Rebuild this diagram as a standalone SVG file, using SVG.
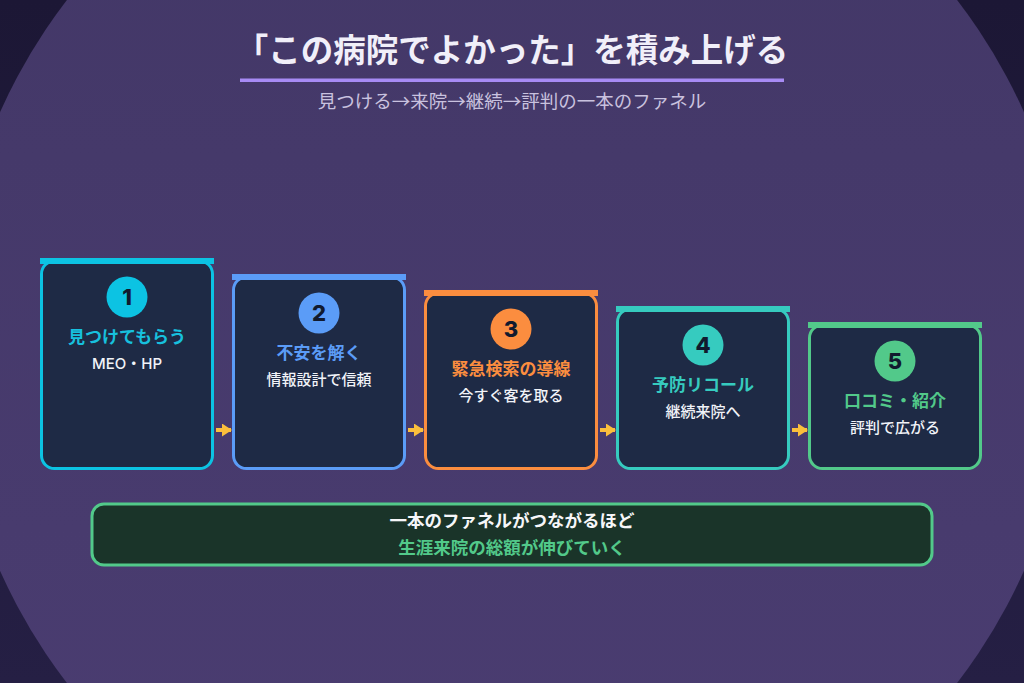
<svg xmlns="http://www.w3.org/2000/svg" width="1024" height="683" viewBox="0 0 1024 683">
  <defs>
    <linearGradient id="bgOuter" x1="0" y1="0" x2="0" y2="1">
      <stop offset="0" stop-color="#1c1735"/>
      <stop offset="1" stop-color="#251f44"/>
    </linearGradient>
    <linearGradient id="bgInner" x1="0" y1="0" x2="0" y2="1">
      <stop offset="0" stop-color="#423766"/>
      <stop offset="1" stop-color="#4b3d72"/>
    </linearGradient>
    <marker id="arrowHead" viewBox="0 0 10 13" refX="9" refY="6.5" markerWidth="10" markerHeight="13" markerUnits="userSpaceOnUse" orient="auto">
      <path d="M0,0 L10,6.5 L0,13 Z" fill="#fbbf3c"/>
    </marker>
  </defs>
  <style>
    .jp { font-family: "Noto Sans CJK JP", "Noto Sans", sans-serif; }
    .lat { font-family: "Inter", "Roboto", "Noto Sans CJK JP", sans-serif; }
    .title { font-size: 32.5px; font-weight: 700; fill: #f1eff9; }
    .sub { font-size: 18.5px; font-weight: 400; fill: #c9c2df; }
    .card { fill: #1e2a45; stroke-width: 3; }
    .num { font-family: "Inter", "Noto Sans", sans-serif; font-size: 22px; font-weight: 800; fill: #111a2e; }
    .ctitle { font-size: 17px; font-weight: 700; }
    .cdesc { font-size: 15px; font-weight: 500; fill: #f1f3f8; }
    .conn { stroke: #fbbf3c; stroke-width: 4; fill: none; }
  </style>

  <rect width="1024" height="683" fill="url(#bgOuter)"/>
  <circle cx="512" cy="341.5" r="561" fill="url(#bgInner)"/>

  <g id="header">
    <text class="jp title" x="512" y="62" text-anchor="middle">「この病院でよかった」を積み上げる</text>
    <rect x="240" y="78.5" width="544" height="3.5" fill="#a78bf5"/>
    <text class="jp sub" x="512" y="108" text-anchor="middle">見つける→来院→継続→評判の一本のファネル</text>
  </g>

  <g id="card1">
    <rect class="card" x="41.5" y="261" width="171" height="207.5" rx="13" stroke="#0cc3e3"/>
    <rect x="40" y="258" width="174" height="6" fill="#0cc3e3"/>
    <circle cx="127" cy="297" r="20.5" fill="#0cc3e3"/>
    <text class="num" x="127" y="305" text-anchor="middle">1</text>
    <text class="jp ctitle" x="127" y="343" text-anchor="middle" fill="#17c0de">見つけてもらう</text>
    <text class="lat cdesc" x="127" y="369" text-anchor="middle">MEO・HP</text>
  </g>

  <g id="card2">
    <rect class="card" x="233.5" y="277" width="171" height="191.5" rx="13" stroke="#5b9cf7"/>
    <rect x="232" y="274" width="174" height="6" fill="#5b9cf7"/>
    <circle cx="319" cy="313" r="20.5" fill="#5b9cf7"/>
    <text class="num" x="319" y="321" text-anchor="middle">2</text>
    <text class="jp ctitle" x="319" y="359" text-anchor="middle" fill="#5b9cf7">不安を解く</text>
    <text class="jp cdesc" x="319" y="385" text-anchor="middle">情報設計で信頼</text>
  </g>

  <g id="card3">
    <rect class="card" x="425.5" y="293" width="171" height="175.5" rx="13" stroke="#fb8d3f"/>
    <rect x="424" y="290" width="174" height="6" fill="#fb8d3f"/>
    <circle cx="511" cy="329" r="20.5" fill="#fb8d3f"/>
    <text class="num" x="511" y="337" text-anchor="middle">3</text>
    <text class="jp ctitle" x="511" y="375" text-anchor="middle" fill="#fb8d3f">緊急検索の導線</text>
    <text class="jp cdesc" x="511" y="401" text-anchor="middle">今すぐ客を取る</text>
  </g>

  <g id="card4">
    <rect class="card" x="617.5" y="309" width="171" height="159.5" rx="13" stroke="#36cbbf"/>
    <rect x="616" y="306" width="174" height="6" fill="#36cbbf"/>
    <circle cx="703" cy="345" r="20.5" fill="#36cbbf"/>
    <text class="num" x="703" y="353" text-anchor="middle">4</text>
    <text class="jp ctitle" x="703" y="391" text-anchor="middle" fill="#36cbbf">予防リコール</text>
    <text class="jp cdesc" x="703" y="417" text-anchor="middle">継続来院へ</text>
  </g>

  <g id="card5">
    <rect class="card" x="809.5" y="325" width="171" height="143.5" rx="13" stroke="#52c98a"/>
    <rect x="808" y="322" width="174" height="6" fill="#52c98a"/>
    <circle cx="895" cy="361" r="20.5" fill="#52c98a"/>
    <text class="num" x="895" y="369" text-anchor="middle">5</text>
    <text class="jp ctitle" x="895" y="407" text-anchor="middle" fill="#52c98a">口コミ・紹介</text>
    <text class="jp cdesc" x="895" y="433" text-anchor="middle">評判で広がる</text>
  </g>

  <g id="connectors">
    <line class="conn" x1="216" y1="430" x2="231" y2="430" marker-end="url(#arrowHead)"/>
    <line class="conn" x1="408" y1="430" x2="423" y2="430" marker-end="url(#arrowHead)"/>
    <line class="conn" x1="600" y1="430" x2="615" y2="430" marker-end="url(#arrowHead)"/>
    <line class="conn" x1="792" y1="430" x2="807" y2="430" marker-end="url(#arrowHead)"/>
  </g>

  <g id="summary">
    <rect x="92" y="504" width="840" height="61" rx="12" fill="#1a3429" stroke="#52c98a" stroke-width="3"/>
    <text class="jp" x="512" y="527" text-anchor="middle" font-size="17.5" font-weight="700" fill="#f6f7f9">一本のファネルがつながるほど</text>
    <text class="jp" x="512" y="554" text-anchor="middle" font-size="17.5" font-weight="700" fill="#52c98a">生涯来院の総額が伸びていく</text>
  </g>
</svg>
